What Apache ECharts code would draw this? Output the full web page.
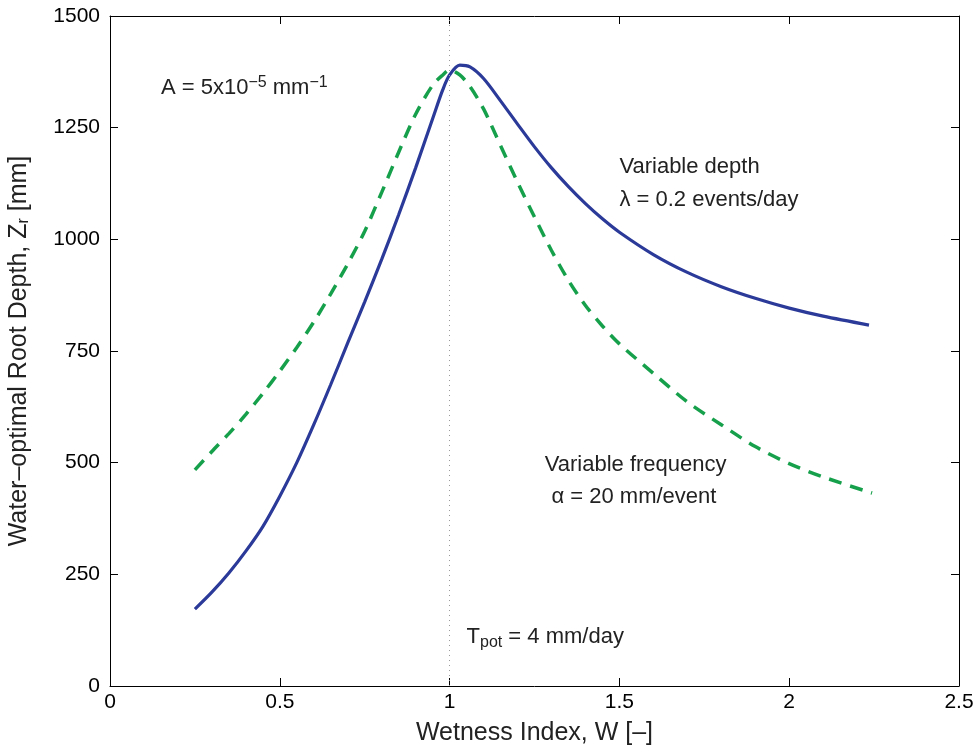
<!DOCTYPE html>
<html>
<head>
<meta charset="utf-8">
<script src="https://cdn.jsdelivr.net/npm/echarts@6/dist/echarts.min.js"></script>
<style>
  html, body { margin:0; padding:0; background:#fff; }
  #chart { width:979px; height:746px; }
</style>
</head>
<body>
<div id="chart"></div>
<script>
// values
const depthX = [0.25,0.3,0.35,0.4,0.45,0.5,0.55,0.6,0.65,0.7,0.75,0.8,0.85,0.9,0.95,0.98,1.0,1.03,1.06,1.1,1.15,1.2,1.25,1.3,1.35,1.4,1.45,1.5,1.6,1.7,1.8,1.9,2.0,2.1,2.235];
const depthY = [172,210,253,302,357,425,500,585,675,768,860,955,1055,1160,1270,1335,1368,1390,1386,1360,1310,1258,1207,1160,1118,1080,1046,1016,966,926,894,868,846,828,808];

const freqX = [0.25,0.3,0.35,0.4,0.45,0.5,0.55,0.6,0.65,0.7,0.75,0.8,0.85,0.9,0.95,0.98,1.0,1.03,1.06,1.1,1.15,1.2,1.25,1.3,1.35,1.4,1.45,1.5,1.6,1.7,1.8,1.9,2.0,2.1,2.244];
const freqY = [484,525,565,608,655,705,758,815,878,945,1018,1105,1195,1280,1345,1368,1379,1368,1342,1292,1210,1128,1050,975,908,852,806,766,700,636,585,536,498,468,432];

const xTicks = [0, 0.5, 1, 1.5, 2, 2.5];
const yTicks = [0, 250, 500, 750, 1000, 1250, 1500];
const refW = 1;

// annotations: [x, y] in data units, plus rich text
const notes = [
  { at:[0.15, 1338], text:'A = 5x10{sup|−5} mm{sup|−1}' },
  { at:[1.5, 1162], text:'Variable depth' },
  { at:[1.5, 1088], text:'λ = 0.2 events/day' },
  { at:[1.28, 495], text:'Variable frequency' },
  { at:[1.3, 424], text:'α = 20 mm/event' },
  { at:[1.05, 110], text:'T{sub|pot} = 4 mm/day' }
];

const FONT = "'Liberation Sans', Arial, sans-serif";
const zip = (xs, ys) => xs.map((x, i) => [x, ys[i]]);

const chart = echarts.init(document.getElementById('chart'));

const axisCommon = {
  min: 0,
  axisLine: { show: true, onZero: false, lineStyle: { color: '#000', width: 1 } },
  axisTick: { show: true, inside: true, length: 8, lineStyle: { color: '#000' } },
  splitLine: { show: false }
};

chart.setOption({
  animation: false,
  backgroundColor: '#fff',
  grid: { left: 110, right: 20, top: 16, bottom: 60, containLabel: false, outerBoundsMode: 'none' },
  xAxis: [
    Object.assign({}, axisCommon, {
      type: 'value', max: 2.5, interval: 0.5, position: 'bottom',
      axisLabel: { color: '#000', fontFamily: FONT, fontSize: 21, margin: 6,
        formatter: v => xTicks.includes(v) ? String(v) : '' },
      name: 'Wetness Index, W [–]', nameLocation: 'middle', nameGap: 35,
      nameTextStyle: { color: '#222', fontFamily: FONT, fontSize: 25 }
    }),
    Object.assign({}, axisCommon, {
      type: 'value', max: 2.5, interval: 0.5, position: 'top',
      axisLabel: { show: false }
    })
  ],
  yAxis: [
    Object.assign({}, axisCommon, {
      type: 'value', max: 1500, interval: 250, position: 'left',
      axisLabel: { color: '#000', fontFamily: FONT, fontSize: 21, margin: 10,
        formatter: v => yTicks.includes(v) ? String(v) : '' },
      name: 'Water–optimal Root Depth, Z{sub|r} [mm]', nameLocation: 'middle', nameGap: 78,
      nameRotate: 90,
      nameTextStyle: { color: '#222', fontFamily: FONT, fontSize: 25,
        rich: { sub: { fontSize: 16, verticalAlign: 'bottom', fontFamily: FONT, color: '#222' } } }
    }),
    Object.assign({}, axisCommon, {
      type: 'value', max: 1500, interval: 250, position: 'right',
      axisLabel: { show: false }
    })
  ],
  series: [
    {
      type: 'line', name: 'Variable depth', data: zip(depthX, depthY),
      smooth: 0.3, showSymbol: false, symbol: 'none',
      lineStyle: { color: '#2b3a98', width: 3.2 },
      z: 3,
      markLine: {
        silent: true, symbol: ['none', 'none'], label: { show: false },
        lineStyle: { color: '#9a9a9a', type: [1, 4], width: 1 },
        data: [{ xAxis: refW }]
      }
    },
    {
      type: 'line', name: 'Variable frequency', data: zip(freqX, freqY),
      smooth: 0.3, showSymbol: false, symbol: 'none',
      lineStyle: { color: '#17a04c', width: 3.5, type: [13, 9] },
      z: 2
    }
  ]
});

// text annotations placed through the axes' scales
const rich = {
  sup: { fontSize: 16, verticalAlign: 'top', fontFamily: FONT, fill: '#222', lineHeight: 28 },
  sub: { fontSize: 16, verticalAlign: 'bottom', fontFamily: FONT, fill: '#222', lineHeight: 28 }
};
chart.setOption({
  graphic: notes.map(n => {
    const p = chart.convertToPixel({ xAxisIndex: 0, yAxisIndex: 0 }, n.at);
    return {
      type: 'text', x: p[0], y: p[1], z: 10,
      style: { text: n.text, fill: '#222', font: '22px ' + FONT,
        verticalAlign: 'middle', lineHeight: 28, rich: rich }
    };
  })
});
</script>
</body>
</html>
